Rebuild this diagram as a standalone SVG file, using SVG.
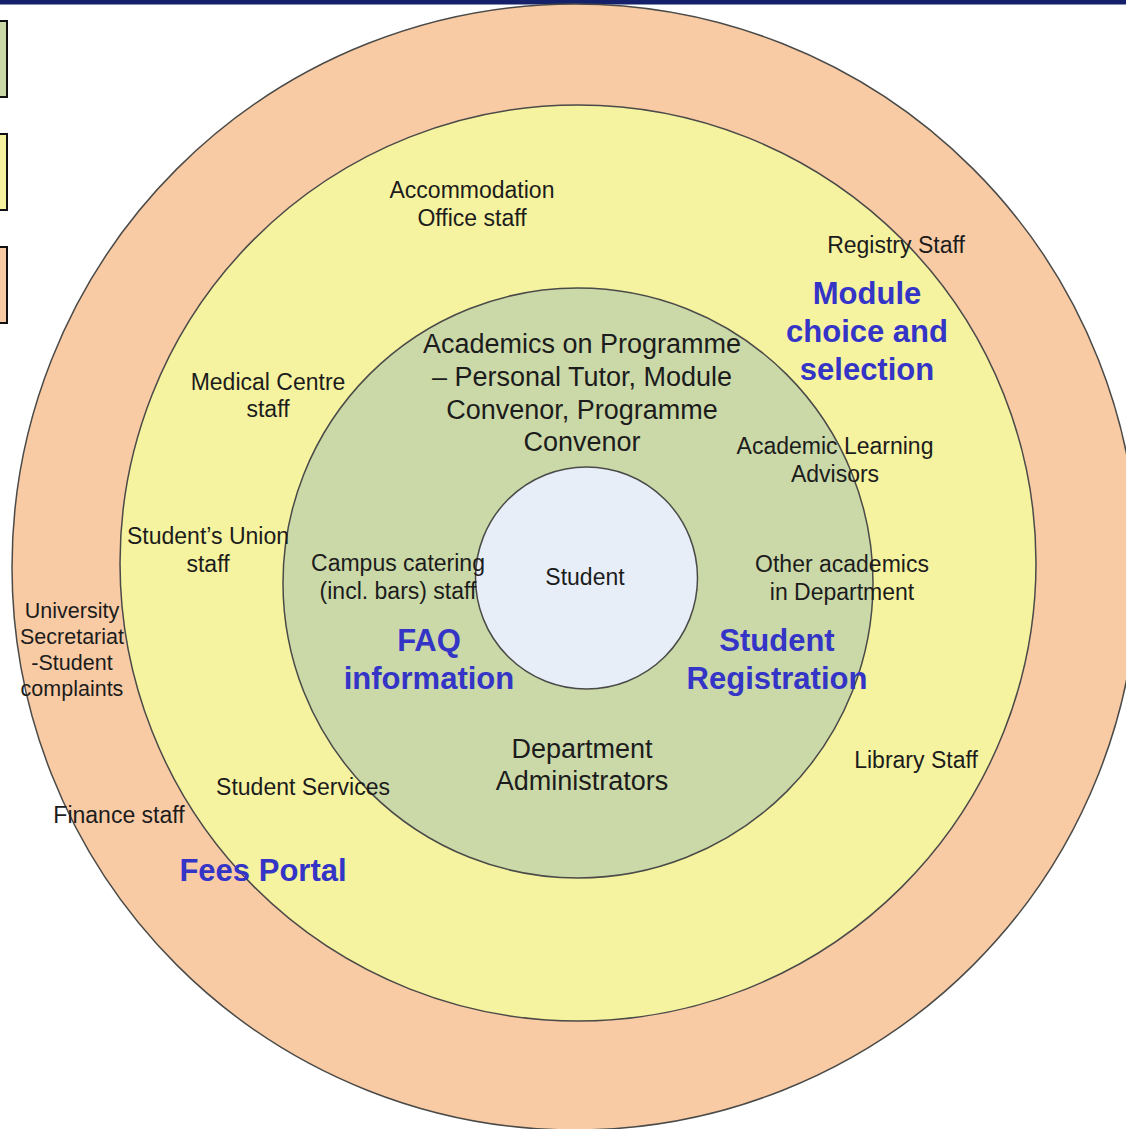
<svg xmlns="http://www.w3.org/2000/svg" width="1126" height="1129" viewBox="0 0 1126 1129">
<style>
.ring{stroke:#4a4a48;stroke-width:1.5}
.t{font-family:"Liberation Sans",Arial,sans-serif;font-size:23px;fill:#1c1c1c;text-anchor:middle}
.tl{font-family:"Liberation Sans",Arial,sans-serif;font-size:27px;fill:#1c1c1c;text-anchor:middle}
.ts{font-family:"Liberation Sans",Arial,sans-serif;font-size:21.5px;fill:#1c1c1c;text-anchor:middle}
.b{font-family:"Liberation Sans",Arial,sans-serif;font-size:31px;font-weight:bold;fill:#3434c6;text-anchor:middle}
.leg{stroke:#111;stroke-width:2}
</style>
<rect x="0" y="0" width="1126" height="1129" fill="#ffffff"/>
<rect x="0" y="0" width="1126" height="4.5" fill="#15206a"/>
<g id="legend">
<rect class="leg" x="-4" y="21" width="11" height="76" fill="#cbd9a8"/>
<rect class="leg" x="-4" y="134" width="11" height="76" fill="#f6f3a0"/>
<rect class="leg" x="-4" y="247" width="11" height="76" fill="#f9cba5"/>
</g>
<g id="rings">
<circle id="outer-ring" class="ring" cx="575" cy="567" r="563" fill="#f9cba5"/>
<circle id="yellow-ring" class="ring" cx="578" cy="563" r="458" fill="#f6f3a0"/>
<circle id="green-ring" class="ring" cx="578" cy="583" r="295" fill="#cbd9a8"/>
<circle id="student-circle" class="ring" cx="586.5" cy="578" r="111" fill="#e8eef8"/>
</g>
<g id="outer-labels">
<text class="ts" x="72" y="618">University</text>
<text class="ts" x="72" y="644">Secretariat</text>
<text class="ts" x="72" y="670">-Student</text>
<text class="ts" x="72" y="696">complaints</text>
<text class="t" x="119" y="823">Finance staff</text>
</g>
<g id="yellow-labels">
<text class="t" x="472" y="198">Accommodation</text>
<text class="t" x="472" y="226">Office staff</text>
<text class="t" x="896" y="253">Registry Staff</text>
<text class="b" x="867" y="304">Module</text>
<text class="b" x="867" y="342">choice and</text>
<text class="b" x="867" y="380">selection</text>
<text class="t" x="268" y="390">Medical Centre</text>
<text class="t" x="268" y="417">staff</text>
<text class="t" x="208" y="544">Student’s Union</text>
<text class="t" x="208" y="572">staff</text>
<text class="t" x="916" y="768">Library Staff</text>
<text class="t" x="303" y="795">Student Services</text>
<text class="b" x="263" y="881">Fees Portal</text>
</g>
<g id="green-labels">
<text class="tl" x="582" y="353">Academics on Programme</text>
<text class="tl" x="582" y="386">– Personal Tutor, Module</text>
<text class="tl" x="582" y="419">Convenor, Programme</text>
<text class="tl" x="582" y="451">Convenor</text>
<text class="t" x="835" y="454">Academic Learning</text>
<text class="t" x="835" y="482">Advisors</text>
<text class="t" x="398" y="571">Campus catering</text>
<text class="t" x="398" y="599">(incl. bars) staff</text>
<text class="t" x="842" y="572">Other academics</text>
<text class="t" x="842" y="600">in Department</text>
<text class="b" x="429" y="651">FAQ</text>
<text class="b" x="429" y="689">information</text>
<text class="b" x="777" y="651">Student</text>
<text class="b" x="777" y="689">Registration</text>
<text class="tl" x="582" y="758">Department</text>
<text class="tl" x="582" y="790">Administrators</text>
</g>
<g id="student">
<text class="t" x="585" y="585">Student</text>
</g>
<g id="connectors"/>
</svg>
